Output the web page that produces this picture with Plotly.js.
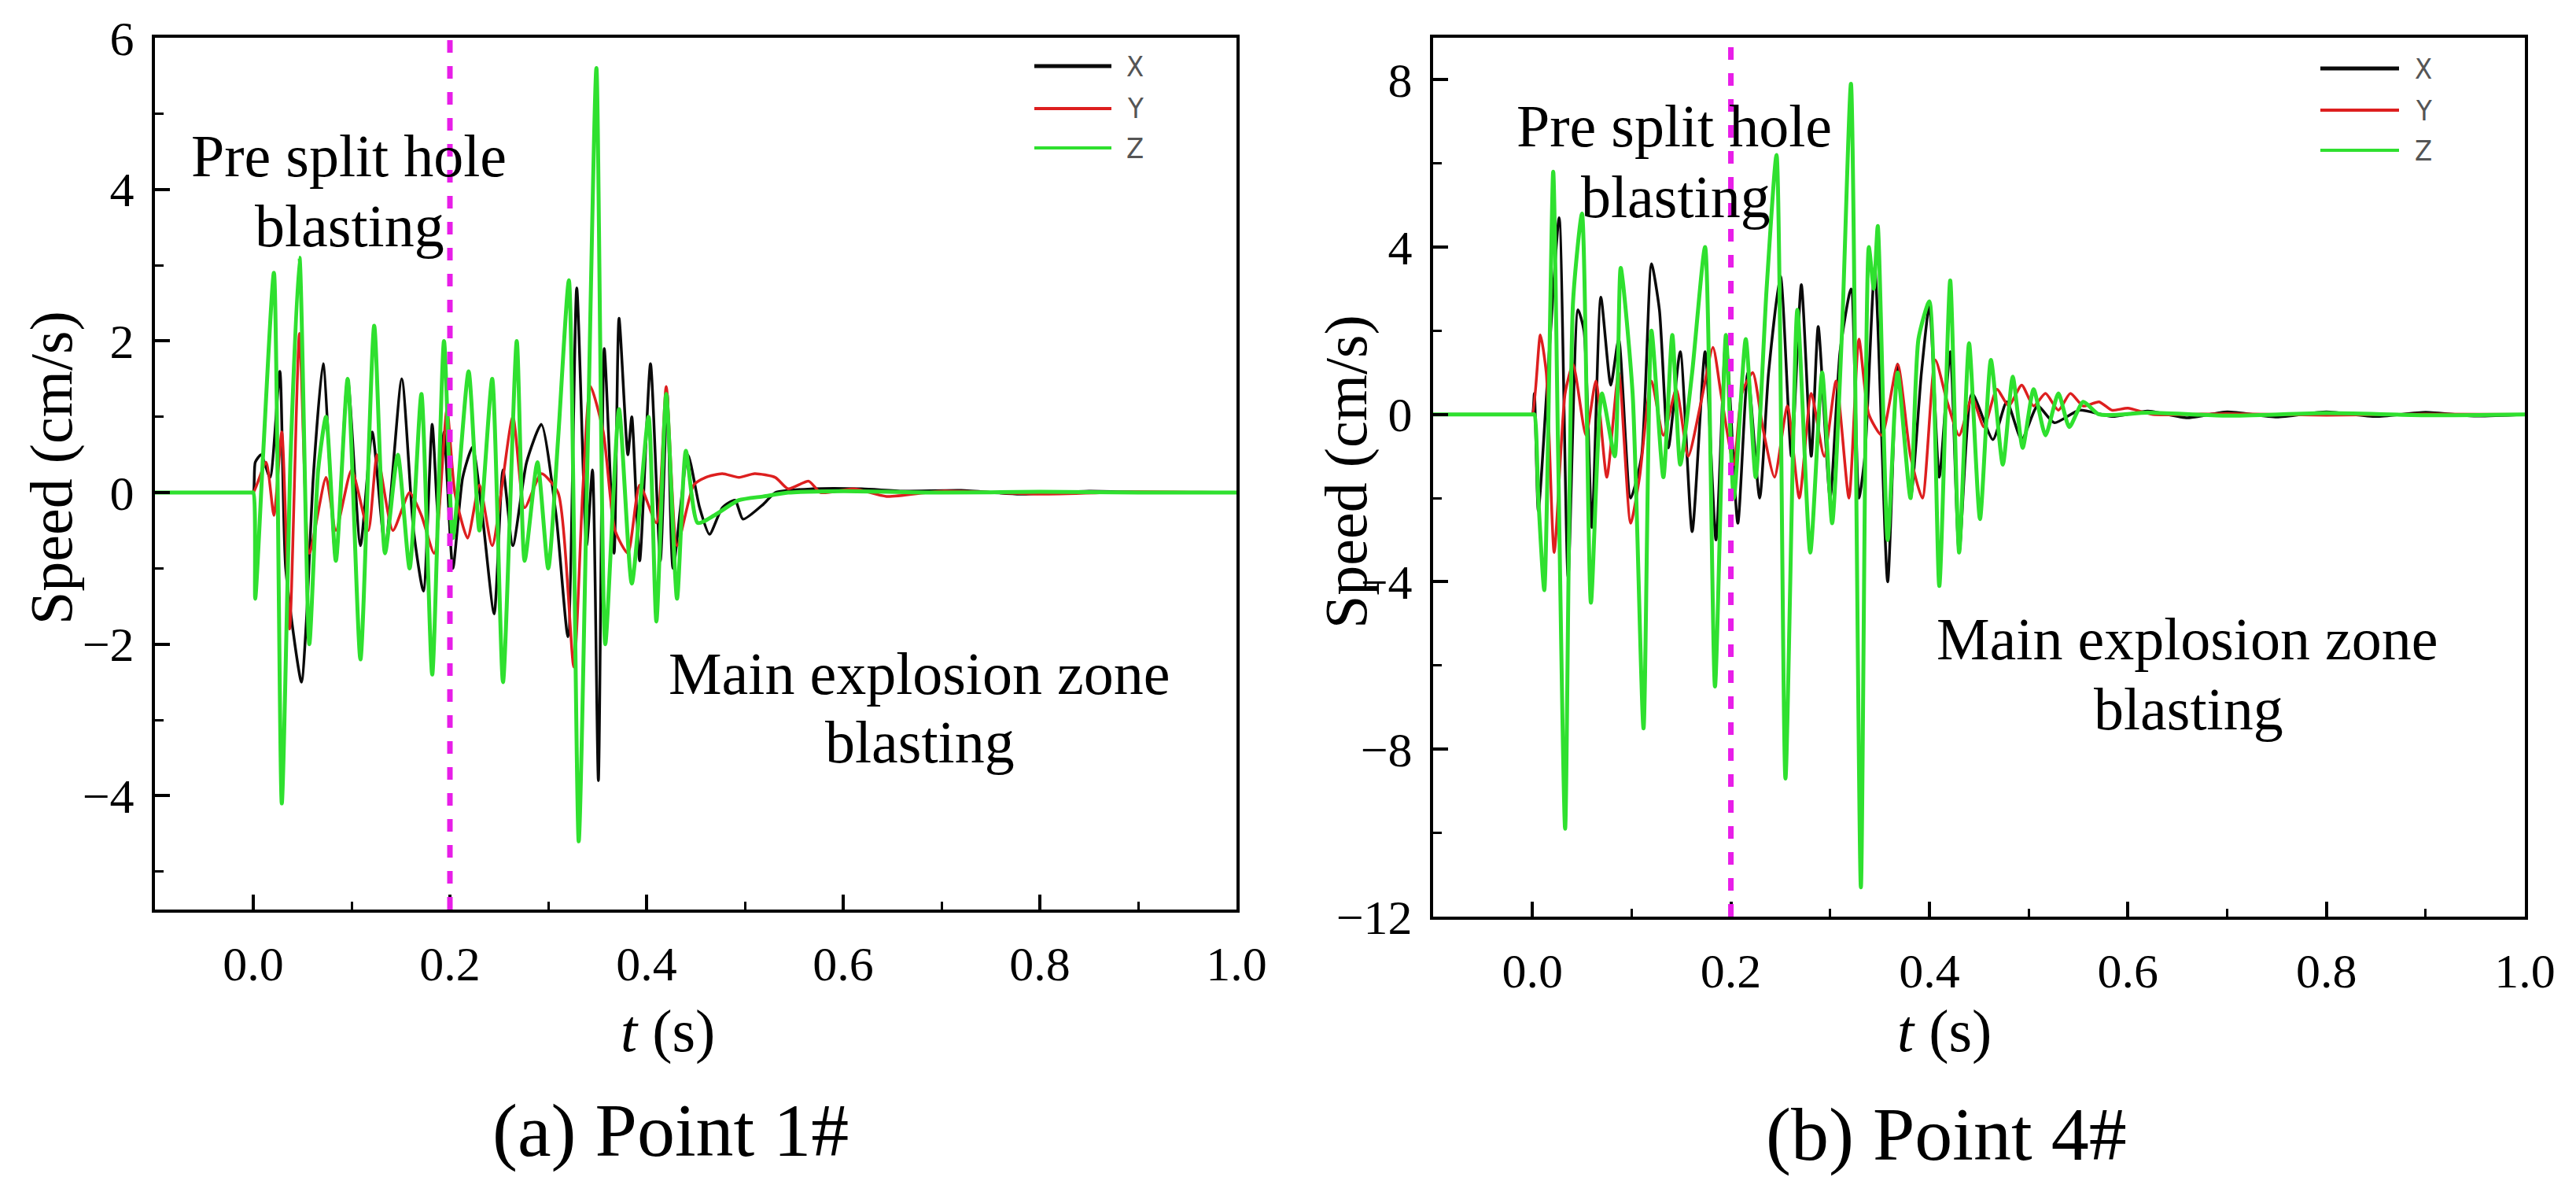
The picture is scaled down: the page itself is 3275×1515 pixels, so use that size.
<!DOCTYPE html>
<html>
<head>
<meta charset="utf-8">
<script src="https://cdn.plot.ly/plotly-3.0.1.min.js"></script>
<style>
  html, body { margin: 0; padding: 0; background: #fff; }
  #chart { width: 3275px; height: 1515px; }
</style>
</head>
<body>
<div id="chart"></div>
<script>
// Point 1# (left panel) – time (s) and speed (cm/s)
const P1_X_T = [-0.1, -0.003, 0.0, 0.002, 0.008, 0.017, 0.027, 0.033, 0.049, 0.054, 0.061, 0.071, 0.084, 0.096, 0.109, 0.121, 0.134, 0.151, 0.163, 0.173, 0.182, 0.188, 0.194, 0.203, 0.213, 0.223, 0.233, 0.245, 0.254, 0.264, 0.278, 0.293, 0.308, 0.320, 0.329, 0.339, 0.345, 0.351, 0.357, 0.367, 0.372, 0.381, 0.385, 0.393, 0.404, 0.414, 0.421, 0.427, 0.442, 0.454, 0.464, 0.477, 0.490, 0.498, 0.519, 0.531, 0.569, 0.619, 0.661, 0.72, 0.78, 0.85, 0.92, 1.0];
const P1_X_V = [0, 0, 0, 0.4, 0.5, 0.2, 1.6, -1.0, -2.5, -1.7, 0.2, 1.7, -0.9, 1.5, -0.7, 0.8, -0.7, 1.5, -0.5, -1.3, 0.9, -0.3, 0.8, -1.0, 0.2, 0.6, -0.3, -1.6, 0.3, -0.7, 0.4, 0.9, -0.3, -1.9, 2.7, -0.7, 0.3, -3.8, 1.9, -0.8, 2.3, 0.5, 1.0, -0.9, 1.7, -0.9, 1.3, -1.0, 0.5, -0.2, -0.55, -0.2, -0.1, -0.35, -0.15, 0.0, 0.05, 0.05, 0.02, 0.03, -0.02, 0.02, 0, 0];

const P1_Y_T = [-0.1, -0.003, 0.0, 0.013, 0.021, 0.029, 0.037, 0.047, 0.057, 0.074, 0.084, 0.100, 0.117, 0.126, 0.142, 0.159, 0.171, 0.184, 0.197, 0.205, 0.218, 0.230, 0.243, 0.264, 0.276, 0.293, 0.310, 0.326, 0.335, 0.343, 0.356, 0.368, 0.381, 0.393, 0.410, 0.420, 0.431, 0.448, 0.460, 0.477, 0.494, 0.510, 0.531, 0.544, 0.565, 0.577, 0.611, 0.644, 0.70, 0.80, 0.90, 1.0];
const P1_Y_V = [0, 0, 0, 0.4, -0.3, 0.8, -1.8, 2.1, -0.8, 0.2, -0.5, 0.3, -0.5, 0.5, -0.5, 0.0, -0.3, -0.8, 1.1, 0.0, -0.6, 0.1, -0.7, 1.0, -0.2, 0.25, 0.0, -2.3, 0.0, 1.4, 0.8, -0.5, -0.8, 0.1, -0.4, 1.4, -0.7, 0.1, 0.2, 0.25, 0.2, 0.25, 0.2, 0.05, 0.15, 0.0, 0.05, -0.05, 0.02, -0.02, 0.01, 0];

const P1_Z_T = [-0.1, -0.003, 0.0, 0.002, 0.010, 0.021, 0.029, 0.038, 0.047, 0.057, 0.066, 0.074, 0.084, 0.096, 0.109, 0.123, 0.134, 0.147, 0.159, 0.171, 0.182, 0.194, 0.203, 0.219, 0.230, 0.243, 0.254, 0.268, 0.276, 0.289, 0.300, 0.310, 0.321, 0.331, 0.340, 0.349, 0.358, 0.372, 0.385, 0.402, 0.410, 0.420, 0.431, 0.440, 0.452, 0.469, 0.494, 0.519, 0.544, 0.60, 0.70, 0.80, 0.90, 1.0];
const P1_Z_V = [0, 0, 0, -1.4, 0.5, 2.9, -4.1, 0.5, 3.1, -2.0, 0.3, 1.0, -0.9, 1.5, -2.2, 2.2, -0.8, 0.5, -1.0, 1.3, -2.4, 2.0, -0.6, 1.6, -0.5, 1.5, -2.5, 2.0, -0.9, 0.4, -1.0, 0.7, 2.8, -4.6, 0.5, 5.6, -2.0, 1.1, -1.2, 1.0, -1.7, 1.3, -1.4, 0.55, -0.4, -0.3, -0.1, -0.05, 0, 0.02, 0, 0.01, 0, 0];

// Point 4# (right panel)
const P4_X_T = [-0.1, -0.003, 0.0, 0.002, 0.006, 0.017, 0.027, 0.036, 0.046, 0.052, 0.060, 0.069, 0.079, 0.087, 0.099, 0.110, 0.120, 0.128, 0.137, 0.149, 0.161, 0.174, 0.185, 0.195, 0.207, 0.217, 0.229, 0.238, 0.250, 0.261, 0.271, 0.281, 0.288, 0.300, 0.310, 0.321, 0.329, 0.335, 0.345, 0.358, 0.368, 0.381, 0.392, 0.400, 0.410, 0.421, 0.430, 0.443, 0.464, 0.478, 0.493, 0.509, 0.526, 0.551, 0.584, 0.62, 0.66, 0.70, 0.75, 0.80, 0.85, 0.90, 0.95, 1.0];
const P4_X_V = [0, 0, 0, 0.5, -2.3, 1.5, 4.7, -3.9, 2.5, 2.0, -2.7, 2.8, 0.7, 1.8, -2.0, -1.0, 3.6, 2.5, -0.8, 1.5, -2.8, 1.5, -3.0, 1.8, -2.6, 1.0, -2.0, 1.0, 3.3, -1.0, 3.1, -1.0, 2.1, -2.0, 1.5, 3.0, -2.0, -1.0, 3.5, -4.0, 1.2, -2.0, 1.0, 2.6, -1.5, 1.5, -3.3, 0.5, -0.6, 0.3, -0.6, 0.2, -0.2, 0.1, -0.05, 0.08, -0.08, 0.06, -0.06, 0.06, -0.05, 0.05, -0.04, 0];

const P4_Y_T = [-0.1, -0.003, 0.0, 0.008, 0.014, 0.022, 0.033, 0.041, 0.054, 0.064, 0.075, 0.087, 0.099, 0.108, 0.120, 0.132, 0.145, 0.157, 0.170, 0.182, 0.190, 0.203, 0.211, 0.222, 0.232, 0.244, 0.257, 0.269, 0.281, 0.294, 0.306, 0.319, 0.329, 0.339, 0.352, 0.368, 0.381, 0.393, 0.406, 0.418, 0.430, 0.443, 0.455, 0.468, 0.480, 0.493, 0.505, 0.517, 0.530, 0.542, 0.555, 0.571, 0.584, 0.600, 0.625, 0.70, 0.80, 0.90, 1.0];
const P4_Y_V = [0, 0, 0, 1.9, 1.0, -3.3, 0.5, 1.2, -0.5, 0.8, -1.5, 1.0, -2.6, -1.5, 0.8, -0.5, 0.6, -1.0, 0.3, 1.6, 0.5, -1.2, 0.5, 1.0, -0.3, -1.5, 0.2, -2.0, 0.5, -1.0, 0.8, -2.0, 1.8, 0.0, -0.5, 1.2, -1.0, -2.0, 1.3, 0.3, -0.5, 0.4, -0.3, 0.6, 0.2, 0.7, 0.2, 0.5, 0.1, 0.5, 0.2, 0.3, 0.1, 0.15, 0, 0.02, -0.02, 0.01, 0];

const P4_Z_T = [-0.1, -0.003, 0.0, 0.002, 0.006, 0.012, 0.021, 0.026, 0.033, 0.041, 0.050, 0.059, 0.070, 0.083, 0.089, 0.101, 0.112, 0.120, 0.132, 0.141, 0.149, 0.161, 0.174, 0.184, 0.195, 0.203, 0.215, 0.225, 0.236, 0.246, 0.255, 0.267, 0.280, 0.292, 0.302, 0.312, 0.321, 0.331, 0.339, 0.344, 0.348, 0.358, 0.368, 0.381, 0.389, 0.400, 0.410, 0.421, 0.430, 0.440, 0.451, 0.462, 0.474, 0.484, 0.494, 0.505, 0.517, 0.530, 0.541, 0.555, 0.571, 0.62, 0.70, 0.80, 0.90, 1.0];
const P4_Z_V = [0, 0, 0, 0, -2.0, -4.2, 5.8, -1.0, -9.9, 2.7, 4.8, -4.5, 0.5, -1.0, 3.5, 0.5, -7.5, 2.0, -1.5, 1.9, -1.2, 1.0, 4.0, -6.5, 1.9, -2.0, 1.8, -1.5, 3.0, 6.2, -8.7, 2.5, -3.3, 1.0, -2.6, 2.0, 7.9, -11.3, 4.0, 3.0, 4.5, -3.0, 1.0, -2.0, 1.8, 2.7, -4.1, 3.2, -3.3, 1.7, -2.5, 1.3, -1.2, 0.9, -0.8, 0.6, -0.5, 0.5, -0.3, 0.3, 0, 0.04, -0.03, 0.03, -0.02, 0];

const SERIES_NAMES = ["X", "Y", "Z"];
const SERIES_COLORS = ["#0a0a0a", "#dd1f1f", "#2fe02f"];
const SERIES_WIDTHS = [3.5, 3.5, 5];
const T_SPLIT = 0.2;
const X_TICK_LABELS = ["0.0", "0.2", "0.4", "0.6", "0.8", "1.0"];
const CAPTIONS = ["(a) Point 1#", "(b) Point 4#"];

const W = 3275;
const H = 1515;
const SERIF = "Liberation Serif, Times New Roman, serif";
const px = (v) => v / W;
const py = (v) => 1 - v / H;

const panels = [
  { xa: "x", ya: "y", data: [[P1_X_T, P1_X_V], [P1_Y_T, P1_Y_V], [P1_Z_T, P1_Z_V]] },
  { xa: "x2", ya: "y2", data: [[P4_X_T, P4_X_V], [P4_Y_T, P4_Y_V], [P4_Z_T, P4_Z_V]] }
];

const traces = [];
panels.forEach((panel) => {
  panel.data.forEach(([t, v], i) => {
    traces.push({
      x: t,
      y: v,
      xaxis: panel.xa,
      yaxis: panel.ya,
      type: "scatter",
      mode: "lines",
      name: SERIES_NAMES[i],
      line: { color: SERIES_COLORS[i], width: SERIES_WIDTHS[i], shape: "spline", smoothing: 0.6 },
      showlegend: false,
      hoverinfo: "skip"
    });
  });
});

const xAxisBase = {
  range: [-0.1, 1.0],
  tickvals: X_TICK_LABELS.map(Number),
  ticktext: X_TICK_LABELS,
  showgrid: false,
  zeroline: false,
  showline: true,
  mirror: true,
  linecolor: "#000",
  linewidth: 4,
  ticks: "inside",
  ticklen: 19,
  tickwidth: 4,
  tickcolor: "#000",
  ticklabelstandoff: 12,
  minor: { ticks: "inside", ticklen: 10, tickwidth: 3, tickcolor: "#000", dtick: 0.1, tick0: 0 },
  tickfont: { family: SERIF, size: 62, color: "#000" }
};

const yAxisBase = {
  showgrid: false,
  zeroline: false,
  showline: true,
  mirror: true,
  linecolor: "#000",
  linewidth: 4,
  ticks: "inside",
  ticklen: 19,
  tickwidth: 4,
  tickcolor: "#000",
  ticklabelstandoff: 10,
  tickfont: { family: SERIF, size: 62, color: "#000" }
};

const layout = {
  width: W,
  height: H,
  margin: { t: 0, r: 0, b: 0, l: 0 },
  paper_bgcolor: "#fff",
  plot_bgcolor: "#fff",
  showlegend: false,
  xaxis: { ...xAxisBase, domain: [px(197), px(1572)], anchor: "y" },
  yaxis: {
    ...yAxisBase, domain: [py(1156), py(48)], anchor: "x",
    range: [-5.5, 6], dtick: 2, tick0: 0,
    minor: { ticks: "inside", ticklen: 11, tickwidth: 3, tickcolor: "#000", dtick: 1, tick0: 0 }
  },
  xaxis2: { ...xAxisBase, domain: [px(1822), px(3210)], anchor: "y2" },
  yaxis2: {
    ...yAxisBase, domain: [py(1165), py(48)], anchor: "x2",
    range: [-12, 9], dtick: 4, tick0: 0,
    minor: { ticks: "inside", ticklen: 11, tickwidth: 3, tickcolor: "#000", dtick: 2, tick0: 0 }
  },
  shapes: [],
  annotations: []
};

// dashed marker at the start of main zone blasting
[["x", "y domain"], ["x2", "y2 domain"]].forEach(([xr, yr]) => {
  layout.shapes.push({
    type: "line", xref: xr, yref: yr, x0: T_SPLIT, x1: T_SPLIT, y0: 0, y1: 1,
    line: { color: "#e81ee8", width: 7, dash: "16px,17px" }
  });
});

// hand-made legends (long line samples like the original)
const legendSpots = [
  { x0: 1315, x1: 1413, xt: 1443, rows: [84, 138, 188] },
  { x0: 2950, x1: 3050, xt: 3081, rows: [87, 140, 191] }
];
legendSpots.forEach((spot) => {
  SERIES_NAMES.forEach((name, i) => {
    layout.shapes.push({
      type: "line", xref: "paper", yref: "paper",
      x0: px(spot.x0), x1: px(spot.x1), y0: py(spot.rows[i]), y1: py(spot.rows[i]),
      line: { color: SERIES_COLORS[i], width: i === 0 ? 5 : 4 }
    });
    layout.annotations.push({
      xref: "paper", yref: "paper", x: px(spot.xt), y: py(spot.rows[i]),
      text: name, showarrow: false, xanchor: "center", yanchor: "middle",
      font: { family: "DejaVu Sans Condensed, Liberation Sans Narrow, DejaVu Sans", size: 36, color: "#555" }
    });
  });
});

const addText = (text, x, y, size, angle) => {
  layout.annotations.push({
    xref: "paper", yref: "paper", x: px(x), y: py(y), text: text,
    showarrow: false, xanchor: "center", yanchor: "middle", align: "center",
    textangle: angle || 0,
    font: { family: SERIF, size: size, color: "#000" }
  });
};

addText("Pre split hole", 443, 198, 76);
addText("blasting", 444, 287, 76);
addText("Main explosion zone", 1168, 856, 76);
addText("blasting", 1169, 943, 76);
addText("Pre split hole", 2128, 160, 76);
addText("blasting", 2130, 250, 76);
addText("Main explosion zone", 2780, 812, 76);
addText("blasting", 2782, 901, 76);

addText("Speed (cm/s)", 65, 595, 76, -90);
addText("Speed (cm/s)", 1711, 600, 76, -90);
addText("<i>t</i> (s)", 849, 1310, 76);
addText("<i>t</i> (s)", 2472, 1310, 76);
addText(CAPTIONS[0], 852, 1436, 96);
addText(CAPTIONS[1], 2474, 1441, 96);

Plotly.newPlot("chart", traces, layout, { displayModeBar: false, responsive: false, staticPlot: true });
</script>
</body>
</html>
